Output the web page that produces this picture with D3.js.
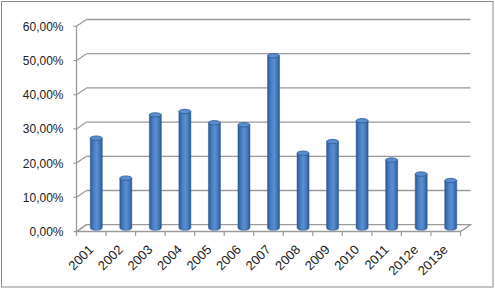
<!DOCTYPE html>
<html><head><meta charset="utf-8">
<script src="https://cdn.jsdelivr.net/npm/d3@7"></script>
<style>
html,body{margin:0;padding:0;background:#fff;}
svg{display:block;}
text{font-family:"Liberation Sans",Arial,sans-serif;fill:#222;}
</style></head>
<body>
<script>
const categories = ["2001","2002","2003","2004","2005","2006","2007","2008","2009","2010","2011","2012e","2013e"];
const values = [26.3,14.6,33.1,34.1,30.8,30.2,50.4,21.9,25.3,31.4,19.9,15.8,13.9];
const yTicks = [0,10,20,30,40,50,60];
const yTickLabels = ["0,00%","10,00%","20,00%","30,00%","40,00%","50,00%","60,00%"];

const W=495,H=289;
const svg=d3.select("body").append("svg").attr("width",W).attr("height",H);
svg.append("rect").attr("x",1.5).attr("y",1.5).attr("width",491.5).attr("height",285.5)
  .attr("fill","#fff").attr("stroke","#8a8a8a").attr("stroke-width",1);

const dx=10, dy=-6.8;
const x=d3.scaleBand().domain(categories).range([76.5,460.5]);
const y=d3.scaleLinear().domain([0,60]).range([231.5,26.3]);

const defs=svg.append("defs");
const g1=defs.append("linearGradient").attr("id","cyl").attr("x1","0").attr("x2","1").attr("y1","0").attr("y2","0");
[[0,"#2c5a94"],[0.3,"#4a7fc4"],[0.55,"#5b8fd2"],[0.8,"#4477b8"],[1,"#2a5590"]].forEach(s=>g1.append("stop").attr("offset",s[0]).attr("stop-color",s[1]));

const grid="#9a9a9a";
yTicks.forEach((t,i)=>{
  const yy=y(t);
  if(t>0){
    svg.append("line").attr("x1",76.5+dx).attr("x2",470.5).attr("y1",yy+dy).attr("y2",yy+dy)
      .attr("stroke",grid).attr("stroke-width",1.3);
  }
  svg.append("line").attr("x1",76.5).attr("x2",76.5+dx).attr("y1",yy).attr("y2",yy+dy)
    .attr("stroke",grid).attr("stroke-width",1.2);
  svg.append("line").attr("x1",73.5).attr("x2",76.5).attr("y1",yy).attr("y2",yy)
    .attr("stroke",grid).attr("stroke-width",1.2);
  svg.append("text").attr("x",63.5).attr("y",yy+4.5).attr("text-anchor","end")
    .attr("font-size",12).text(yTickLabels[i]);
});
svg.append("path").attr("d",`M76.5,${y(0)}L460.5,${y(0)}L470.5,${y(0)+dy}L${76.5+dx},${y(0)+dy}Z`)
  .attr("fill","none").attr("stroke",grid).attr("stroke-width",1.3);
svg.append("line").attr("x1",76.5).attr("x2",76.5).attr("y1",y(60)).attr("y2",y(0))
  .attr("stroke",grid).attr("stroke-width",1.3);
categories.concat([null]).forEach(c=>{
  const xx=c?x(c):460.5;
  svg.append("line").attr("x1",xx).attr("x2",xx).attr("y1",y(0)).attr("y2",y(0)+4.5)
    .attr("stroke",grid).attr("stroke-width",1.2);
});
const bw=12, ry=2.2;
categories.forEach((c,i)=>{
  const cx=x(c)+x.bandwidth()/2+dx/2;
  const yb=y(0)+dy/2, yt=y(values[i])+dy/2;
  const g=svg.append("g");
  g.append("path").attr("d",`M${cx-bw/2},${yt}L${cx-bw/2},${yb}A${bw/2},${ry} 0 0 0 ${cx+bw/2},${yb}L${cx+bw/2},${yt}Z`)
    .attr("fill","url(#cyl)").attr("stroke","#2d5a92").attr("stroke-width",0.5);
  g.append("ellipse").attr("cx",cx).attr("cy",yt).attr("rx",bw/2).attr("ry",ry)
    .attr("fill","#5b8ed0").attr("stroke","#2d5a92").attr("stroke-width",0.8);
});
categories.forEach(c=>{
  const cx=x(c)+x.bandwidth()/2;
  svg.append("text").attr("text-anchor","end").attr("font-size",13)
    .attr("transform",`translate(${cx+3},${y(0)+19}) rotate(-45)`).text(c);
});
</script>
</body></html>
